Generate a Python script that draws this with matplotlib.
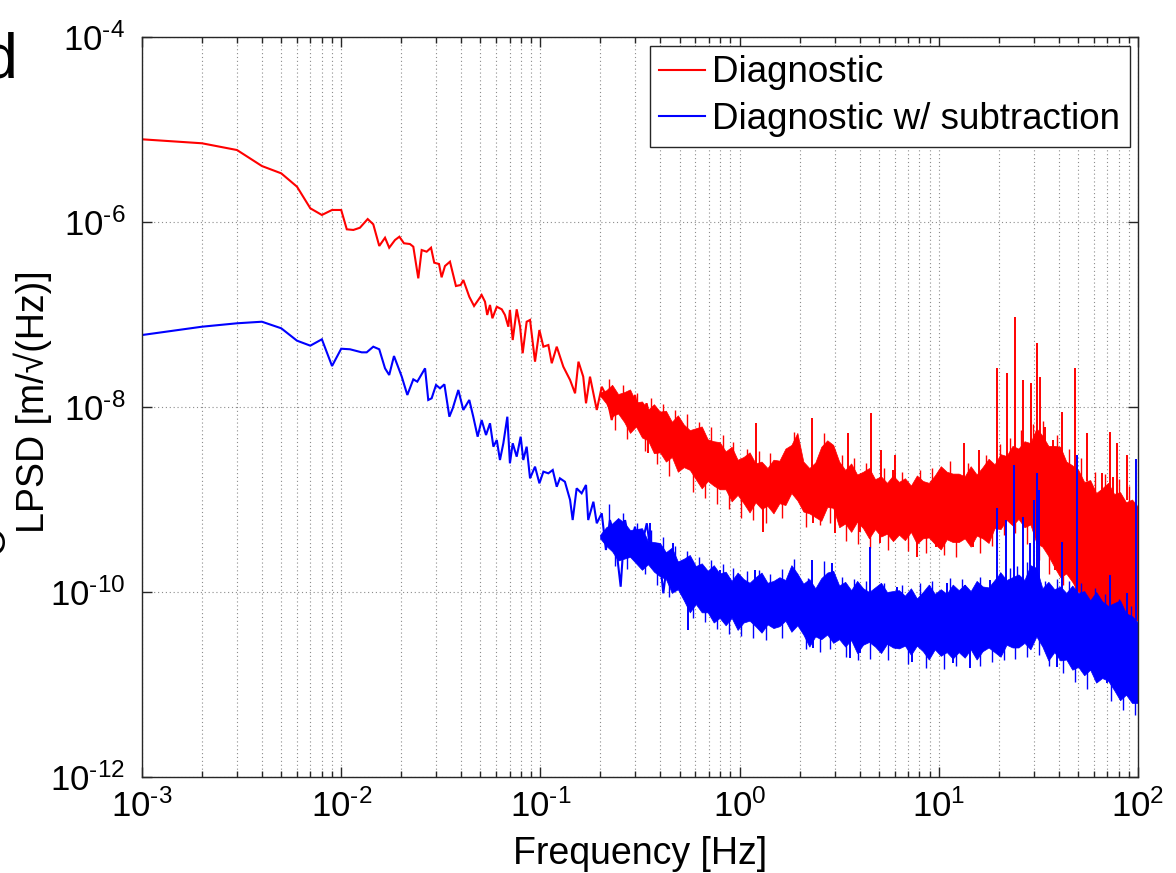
import numpy as np
import matplotlib
matplotlib.use('Agg')
import matplotlib.pyplot as plt
from matplotlib.ticker import FixedLocator, NullLocator, NullFormatter

plt.rcParams['font.family'] = ['Liberation Sans', 'DejaVu Sans']
plt.rcParams['mathtext.fontset'] = 'custom'
plt.rcParams['mathtext.rm'] = 'Liberation Sans'
plt.rcParams['mathtext.it'] = 'Liberation Sans:italic'
plt.rcParams['mathtext.bf'] = 'Liberation Sans:bold'
plt.rcParams['mathtext.default'] = 'regular'

# ---------------- data (log10 of frequency [Hz], log10 of LPSD [m/sqrt(Hz)]) ----------------
# Diagnostic (red): resolved low-frequency trace
red_logf = [-3.000, -2.699, -2.523, -2.398, -2.301, -2.222, -2.155, -2.097, -2.046, -2.000,
            -1.972, -1.939, -1.906, -1.867, -1.839, -1.809, -1.780, -1.759, -1.730, -1.708,
            -1.685, -1.655, -1.638, -1.613, -1.596, -1.571, -1.549, -1.533, -1.509, -1.496,
            -1.479, -1.454, -1.424, -1.400, -1.387, -1.375, -1.357, -1.333, -1.312, -1.295,
            -1.278, -1.267, -1.253, -1.241, -1.219, -1.194, -1.178, -1.161, -1.153, -1.139,
            -1.119, -1.102, -1.089, -1.069, -1.052, -1.027, -1.005, -0.985, -0.960, -0.943,
            -0.918, -0.885, -0.851, -0.826, -0.809, -0.785, -0.771, -0.751, -0.717, -0.692,
            -0.667, -0.642, -0.617, -0.584, -0.550, -0.525, -0.500, -0.467, -0.441, -0.417]
red_logpsd = [-5.106, -5.149, -5.222, -5.395, -5.474, -5.618, -5.852, -5.924, -5.870, -5.870,
              -6.079, -6.086, -6.062, -5.968, -6.025, -6.259, -6.170, -6.278, -6.195, -6.159,
              -6.230, -6.238, -6.267, -6.609, -6.303, -6.321, -6.278, -6.440, -6.454, -6.598,
              -6.476, -6.429, -6.692, -6.681, -6.627, -6.699, -6.808, -6.908, -6.843, -6.789,
              -6.862, -7.005, -6.897, -7.041, -6.916, -6.944, -7.005, -7.132, -6.951, -7.276,
              -6.944, -7.132, -7.419, -7.078, -7.059, -7.510, -7.168, -7.348, -7.330, -7.527,
              -7.348, -7.564, -7.708, -7.852, -7.510, -7.672, -7.960, -7.672, -8.032, -7.781,
              -7.889, -8.141, -7.924, -8.105, -8.032, -7.870, -8.176, -7.960, -8.213, -8.032]

# Diagnostic w/ subtraction (blue): resolved low-frequency trace
blue_logf = [-3.000, -2.699, -2.523, -2.398, -2.301, -2.222, -2.155, -2.097, -2.046, -2.000,
             -1.956, -1.897, -1.872, -1.839, -1.809, -1.780, -1.759, -1.735, -1.696, -1.668,
             -1.638, -1.618, -1.579, -1.563, -1.546, -1.524, -1.504, -1.482, -1.457, -1.440,
             -1.412, -1.387, -1.357, -1.337, -1.315, -1.295, -1.273, -1.253, -1.236, -1.219,
             -1.203, -1.186, -1.166, -1.153, -1.139, -1.119, -1.099, -1.086, -1.069, -1.052,
             -1.027, -1.005, -0.985, -0.960, -0.938, -0.918, -0.902, -0.877, -0.851, -0.838,
             -0.818, -0.793, -0.771, -0.760, -0.734, -0.717, -0.692, -0.671, -0.651, -0.626,
             -0.597, -0.575, -0.550, -0.525, -0.500, -0.466, -0.441, -0.408, -0.383, -0.358]
blue_logpsd = [-7.222, -7.132, -7.095, -7.078, -7.149, -7.283, -7.337, -7.268, -7.557, -7.370,
               -7.376, -7.409, -7.409, -7.348, -7.376, -7.582, -7.654, -7.449, -7.672, -7.870,
               -7.701, -7.726, -7.582, -7.924, -7.906, -7.762, -7.798, -7.755, -8.105, -8.014,
               -7.816, -8.032, -7.924, -8.105, -8.321, -8.141, -8.303, -8.176, -8.429, -8.357,
               -8.573, -8.392, -8.105, -8.609, -8.392, -8.537, -8.321, -8.573, -8.429, -8.771,
               -8.645, -8.825, -8.699, -8.717, -8.681, -8.862, -8.771, -8.808, -9.005, -9.222,
               -8.879, -8.933, -8.843, -9.222, -9.024, -9.257, -9.149, -9.546, -9.222, -9.402,
               -9.943, -9.222, -9.510, -9.294, -9.582, -9.257, -9.654, -9.474, -10.014, -9.582]

# dense (unresolved) part above ~0.2 Hz: upper / lower edge of the solid band
band_logf = [-0.70, -0.67, -0.64, -0.61, -0.58, -0.55, -0.52, -0.49, -0.46, -0.43,
             -0.40, -0.37, -0.34, -0.31, -0.28, -0.25, -0.22, -0.19, -0.16, -0.13,
             -0.10, -0.07, -0.04, -0.01, 0.02, 0.05, 0.08, 0.11, 0.14, 0.17,
             0.20, 0.23, 0.26, 0.29, 0.32, 0.35, 0.38, 0.41, 0.44, 0.47,
             0.50, 0.53, 0.56, 0.59, 0.62, 0.65, 0.68, 0.71, 0.74, 0.77,
             0.80, 0.83, 0.86, 0.89, 0.92, 0.95, 0.98, 1.01, 1.04, 1.07,
             1.10, 1.13, 1.16, 1.19, 1.22, 1.25, 1.28, 1.31, 1.34, 1.37,
             1.40, 1.43, 1.46, 1.49, 1.52, 1.55, 1.58, 1.61, 1.64, 1.67,
             1.70, 1.73, 1.76, 1.79, 1.82, 1.85, 1.88, 1.91, 1.94, 1.97, 2.00]
red_band_max = [-7.84, -7.82, -7.76, -7.86, -7.84, -7.81, -7.95, -7.94, -8.03, -7.97,
                -8.05, -8.04, -8.16, -8.09, -8.19, -8.25, -8.23, -8.21, -8.35, -8.37,
                -8.38, -8.48, -8.43, -8.57, -8.54, -8.49, -8.61, -8.59, -8.66, -8.57,
                -8.58, -8.45, -8.41, -8.28, -8.59, -8.66, -8.60, -8.43, -8.36, -8.41,
                -8.59, -8.68, -8.61, -8.73, -8.70, -8.66, -8.78, -8.75, -8.82, -8.74,
                -8.81, -8.77, -8.85, -8.74, -8.80, -8.82, -8.74, -8.64, -8.70, -8.72,
                -8.72, -8.75, -8.64, -8.73, -8.65, -8.56, -8.62, -8.51, -8.53, -8.42,
                -8.45, -8.37, -8.39, -8.23, -8.31, -8.42, -8.42, -8.43, -8.59, -8.63,
                -8.68, -8.81, -8.79, -8.93, -8.88, -8.82, -8.94, -8.92, -9.03, -9.00, -9.08]
red_band_min = [-7.88, -7.96, -8.10, -8.07, -8.16, -8.28, -8.21, -8.33, -8.36, -8.50,
                -8.49, -8.59, -8.54, -8.70, -8.65, -8.68, -8.78, -8.88, -8.80, -8.85,
                -8.89, -8.89, -9.02, -8.95, -9.04, -9.14, -9.03, -9.10, -9.07, -9.15,
                -9.04, -9.06, -8.93, -9.01, -9.13, -9.15, -9.19, -9.23, -9.08, -9.09,
                -9.30, -9.26, -9.35, -9.24, -9.31, -9.42, -9.32, -9.40, -9.37, -9.45,
                -9.38, -9.44, -9.35, -9.48, -9.42, -9.41, -9.48, -9.54, -9.43, -9.46,
                -9.46, -9.42, -9.51, -9.39, -9.42, -9.47, -9.31, -9.32, -9.22, -9.28,
                -9.21, -9.30, -9.27, -9.47, -9.51, -9.61, -9.73, -9.84, -9.80, -9.89,
                -10.00, -10.01, -10.14, -10.06, -10.14, -10.25, -10.16, -10.25, -10.24, -10.34, -10.30]
blue_band_max = [-9.38, -9.30, -9.26, -9.20, -9.25, -9.33, -9.32, -9.31, -9.45, -9.46,
                 -9.47, -9.57, -9.52, -9.67, -9.64, -9.60, -9.72, -9.69, -9.77, -9.71,
                 -9.80, -9.78, -9.88, -9.79, -9.86, -9.90, -9.84, -9.79, -9.90, -9.88,
                 -9.84, -9.87, -9.71, -9.80, -9.91, -9.86, -9.96, -9.85, -9.79, -9.77,
                 -9.93, -9.89, -9.98, -9.88, -9.96, -10.00, -9.95, -9.90, -10.00, -9.99,
                 -9.98, -10.04, -9.96, -10.07, -10.00, -9.92, -10.02, -9.97, -10.02, -9.92,
                 -9.98, -9.92, -9.99, -9.88, -9.94, -9.95, -9.87, -9.79, -9.87, -9.84,
                 -9.81, -9.87, -9.71, -9.74, -9.96, -9.89, -9.97, -9.94, -10.01, -9.93,
                 -10.01, -9.99, -10.09, -10.00, -10.10, -10.15, -10.12, -10.09, -10.23, -10.26, -10.33]
blue_band_min = [-9.42, -9.50, -9.56, -9.66, -9.64, -9.62, -9.69, -9.76, -9.70, -9.78,
                 -9.83, -9.86, -10.01, -9.97, -10.09, -10.22, -10.13, -10.22, -10.22, -10.33,
                 -10.28, -10.36, -10.28, -10.41, -10.33, -10.31, -10.37, -10.44, -10.35, -10.39,
                 -10.37, -10.31, -10.43, -10.36, -10.46, -10.59, -10.48, -10.51, -10.46, -10.55,
                 -10.51, -10.59, -10.52, -10.66, -10.57, -10.54, -10.59, -10.66, -10.56, -10.60,
                 -10.61, -10.58, -10.68, -10.58, -10.64, -10.73, -10.62, -10.69, -10.65, -10.72,
                 -10.65, -10.71, -10.62, -10.73, -10.64, -10.60, -10.65, -10.70, -10.57, -10.60,
                 -10.60, -10.55, -10.62, -10.48, -10.59, -10.74, -10.65, -10.74, -10.73, -10.84,
                 -10.81, -10.90, -10.84, -10.98, -10.93, -10.96, -11.06, -11.17, -11.11, -11.20, -11.20]

# fine noise excursions along the band edges (frequency, tip)
red_fringe_up_logf = [-0.655, -0.585, -0.515, -0.445, -0.385, -0.325, -0.265, -0.205, -0.145, -0.085,
                      -0.035, 0.035, 0.095, 0.155, 0.275, 0.425, 0.515, 0.575, 0.635, 0.725,
                      0.815, 0.905, 0.965, 1.055, 1.145, 1.235, 1.305, 1.355, 1.415, 1.475,
                      1.525, 1.595, 1.655, 1.715, 1.785, 1.835, 1.905, 1.955]
red_fringe_up_tip = [-7.70, -7.76, -7.85, -7.90, -7.97, -8.03, -8.08, -8.16, -8.22, -8.30,
                     -8.38, -8.45, -8.48, -8.50, -8.27, -8.28, -8.52, -8.55, -8.60, -8.66,
                     -8.70, -8.68, -8.66, -8.58, -8.60, -8.52, -8.40, -8.33, -8.25, -8.18,
                     -8.15, -8.30, -8.45, -8.55, -8.70, -8.72, -8.78, -8.85]
red_fringe_lo_logf = [-0.625, -0.565, -0.475, -0.415, -0.355, -0.235, -0.175, -0.115, -0.055, 0.005,
                      0.065, 0.135, 0.215, 0.335, 0.405, 0.455, 0.535, 0.595, 0.655, 0.745,
                      0.845, 0.935, 1.025, 1.085, 1.205, 1.265, 1.325, 1.385, 1.445, 1.505,
                      1.555, 1.625, 1.685, 1.745, 1.865, 1.925, 1.985]
red_fringe_lo_tip = [-8.25, -8.35, -8.48, -8.62, -8.75, -8.92, -8.98, -9.05, -9.10, -9.20,
                     -9.22, -9.25, -9.20, -9.30, -9.28, -9.25, -9.45, -9.48, -9.52, -9.55,
                     -9.56, -9.58, -9.60, -9.62, -9.58, -9.50, -9.38, -9.36, -9.48, -9.65,
                     -9.80, -9.92, -10.02, -10.18, -10.30, -10.35, -10.40]
blue_fringe_up_logf = [-0.655, -0.585, -0.515, -0.445, -0.385, -0.325, -0.265, -0.205, -0.145, -0.085,
                       -0.035, 0.035, 0.095, 0.155, 0.215, 0.275, 0.345, 0.425, 0.515, 0.575,
                       0.635, 0.725, 0.815, 0.905, 0.965, 1.055, 1.115, 1.205, 1.305, 1.355,
                       1.395, 1.445, 1.535, 1.595, 1.655, 1.715, 1.785, 1.835, 1.905, 1.965]
blue_fringe_up_tip = [-9.05, -9.15, -9.25, -9.33, -9.40, -9.50, -9.56, -9.62, -9.65, -9.70,
                      -9.74, -9.77, -9.76, -9.80, -9.75, -9.64, -9.85, -9.66, -9.84, -9.86,
                      -9.88, -9.90, -9.92, -9.90, -9.88, -9.85, -9.86, -9.84, -9.78, -9.74,
                      -9.72, -9.68, -9.88, -9.86, -9.88, -9.90, -9.96, -10.02, -10.08, -10.15]
blue_fringe_lo_logf = [-0.625, -0.565, -0.475, -0.415, -0.355, -0.235, -0.175, -0.115, -0.055, 0.005,
                       0.065, 0.135, 0.215, 0.335, 0.405, 0.455, 0.535, 0.595, 0.655, 0.745,
                       0.845, 0.935, 1.025, 1.085, 1.205, 1.265, 1.325, 1.385, 1.445, 1.505,
                       1.555, 1.625, 1.685, 1.745, 1.865, 1.925, 1.985]
blue_fringe_lo_tip = [-9.72, -9.75, -9.80, -9.92, -10.05, -10.28, -10.32, -10.40, -10.45, -10.48,
                      -10.50, -10.52, -10.50, -10.62, -10.65, -10.62, -10.70, -10.74, -10.72, -10.74,
                      -10.78, -10.82, -10.83, -10.80, -10.80, -10.76, -10.74, -10.72, -10.70, -10.68,
                      -10.80, -10.88, -10.97, -11.05, -11.18, -11.28, -11.33]

# narrow lines standing out of the band (frequency, peak, foot inside band)
red_spike_logf = [0.082, 0.363, 0.544, 0.660, 0.710, 0.780, 0.770, 1.127, 1.202, 1.292,
                  1.342, 1.383, 1.423, 1.463, 1.493, 1.508, 1.533, 1.573, 1.618, 1.684,
                  1.744, 1.819, 1.860, 1.875, 1.895, 1.945]
red_spike_top = [-8.173, -8.119, -8.281, -8.065, -8.465, -8.519, -8.680, -8.389, -8.465, -7.578,
                 -7.632, -7.027, -7.708, -7.741, -7.308, -7.676, -8.216, -8.357, -8.054, -7.578,
                 -8.281, -8.714, -8.270, -8.757, -8.390, -8.519]
red_spike_foot = [-8.62, -8.66, -8.70, -8.75, -8.80, -8.82, -8.82, -8.79, -8.75, -8.60,
                  -8.55, -8.50, -8.45, -8.40, -8.35, -8.35, -8.40, -8.47, -8.55, -8.70,
                  -8.80, -8.90, -8.93, -8.95, -8.97, -9.00]
red_dip_logf = [-0.460, -0.299, 0.117, 0.368, 0.479, 0.604, 0.705, 0.891, 0.986, 1.172,
                1.583, 1.759, 1.809, 1.875, 1.910, 1.945]
red_dip_bottom = [-8.497, -8.680, -9.351, -9.250, -9.362, -9.350, -9.470, -9.622, -9.514, -9.510,
                  -9.760, -10.090, -10.120, -10.270, -10.270, -10.270]
red_dip_top = [-8.30, -8.45, -9.00, -9.00, -9.10, -9.10, -9.20, -9.30, -9.35, -9.30,
               -9.50, -9.80, -9.85, -9.95, -9.95, -9.95]

blue_spike_logf = [-0.450, -0.334, -0.098, 0.077, 0.363, 0.464, 0.655, 0.790, 1.041, 1.132,
                   1.257, 1.292, 1.337, 1.378, 1.423, 1.458, 1.478, 1.493, 1.503, 1.618,
                   1.694, 1.860, 1.945, 1.990]
blue_spike_top = [-9.25, -9.47, -9.76, -9.76, -9.654, -9.686, -9.514, -9.946, -9.903, -9.92,
                  -9.87, -9.092, -9.222, -8.627, -9.189, -9.470, -9.01, -8.714, -8.90, -9.459,
                  -8.519, -9.816, -10.011, -8.562]
blue_spike_foot = [-9.55, -9.70, -9.95, -10.00, -10.00, -10.00, -10.05, -10.10, -10.10, -10.10,
                   -10.05, -10.00, -10.00, -9.95, -9.95, -9.90, -9.90, -9.90, -9.90, -10.00,
                   -10.05, -10.20, -10.25, -10.30]
blue_dip_logf = [-0.259, 0.368, 0.554, 0.604, 0.865, 1.071, 1.157, 1.593, 1.724, 1.844,
                 1.910, 1.970]
blue_dip_bottom = [-10.41, -10.61, -10.71, -10.66, -10.76, -10.77, -10.82, -10.81, -10.86, -10.98,
                   -11.09, -11.17]
blue_dip_top = [-9.90, -10.30, -10.40, -10.40, -10.45, -10.45, -10.45, -10.50, -10.55, -10.65,
                -10.75, -10.85]

# axes ticks
xtick_exps = [-3, -2, -1, 0, 1, 2]
ytick_exps = [-12, -10, -8, -6, -4]
series_labels = ['Diagnostic', 'Diagnostic w/ subtraction']

# ---------------- plotting ----------------
RED = (1.0, 0.0, 0.0)
BLUE = (0.0, 0.0, 1.0)
FRINGE_DEPTH = 0.25   # how far (in decades) a fringe stroke reaches back into the band

fig = plt.figure(figsize=(11.76, 8.73), dpi=100)
ax = fig.add_axes([142 / 1176, 96 / 873, 996 / 1176, 740 / 873])
ax.set_xscale('log')
ax.set_yscale('log')


def p10(a):
    return 10.0 ** np.asarray(a, dtype=float)


def draw_series(logf, logpsd, bmax, bmin, fu_f, fu_t, fl_f, fl_t, sp_f, sp_top, sp_foot,
                dp_f, dp_bot, dp_top, color, label, z):
    ax.fill_between(p10(band_logf), p10(bmin), p10(bmax), facecolor=color, edgecolor=color,
                    lw=0.5, zorder=z)
    ax.vlines(p10(fu_f), p10(np.asarray(fu_t) - FRINGE_DEPTH), p10(fu_t), color=color,
              lw=1.0, zorder=z)
    ax.vlines(p10(fl_f), p10(fl_t), p10(np.asarray(fl_t) + FRINGE_DEPTH), color=color,
              lw=1.0, zorder=z)
    ax.vlines(p10(sp_f), p10(sp_foot), p10(sp_top), color=color, lw=1.4, zorder=z)
    ax.vlines(p10(dp_f), p10(dp_bot), p10(dp_top), color=color, lw=1.4, zorder=z)
    line, = ax.plot(p10(logf), p10(logpsd), color=color, lw=1.5, zorder=z + 0.1,
                    label=label, solid_joinstyle='miter')
    return line


h_red = draw_series(red_logf, red_logpsd, red_band_max, red_band_min,
                    red_fringe_up_logf, red_fringe_up_tip, red_fringe_lo_logf, red_fringe_lo_tip,
                    red_spike_logf, red_spike_top, red_spike_foot,
                    red_dip_logf, red_dip_bottom, red_dip_top, RED, series_labels[0], 3)
h_blue = draw_series(blue_logf, blue_logpsd, blue_band_max, blue_band_min,
                     blue_fringe_up_logf, blue_fringe_up_tip, blue_fringe_lo_logf, blue_fringe_lo_tip,
                     blue_spike_logf, blue_spike_top, blue_spike_foot,
                     blue_dip_logf, blue_dip_bottom, blue_dip_top, BLUE, series_labels[1], 4)

ax.set_xlim(10.0 ** xtick_exps[0], 10.0 ** xtick_exps[-1])
ax.set_ylim(10.0 ** ytick_exps[0], 10.0 ** ytick_exps[-1])


def exp_label(e):
    s = str(e).replace('-', '\u2010')
    return f'$10^{{{s}}}$'


# ticks
ax.xaxis.set_major_locator(FixedLocator(p10(xtick_exps)))
minor_x = [m * 10.0 ** e for e in xtick_exps[:-1] for m in range(2, 10)]
ax.xaxis.set_minor_locator(FixedLocator(minor_x))
ax.xaxis.set_minor_formatter(NullFormatter())
ax.set_xticklabels([exp_label(e) for e in xtick_exps])
ax.yaxis.set_major_locator(FixedLocator(p10(ytick_exps)))
ax.yaxis.set_minor_locator(NullLocator())
ax.set_yticklabels([exp_label(e) for e in ytick_exps])

ax.tick_params(which='both', direction='in', top=True, right=True, colors='#262626',
               width=1.0, labelcolor='black')
ax.tick_params(which='major', length=7, labelsize=25)
ax.tick_params(which='minor', length=4)
ax.tick_params(axis='x', which='major', pad=9)
ax.tick_params(axis='y', which='major', pad=12)

for s in ax.spines.values():
    s.set_color('#262626')
    s.set_linewidth(1.0)
    s.set_zorder(6)

grid_kw = dict(color='#8c8c8c', linestyle=(0, (1, 2.5)), linewidth=0.8)
ax.xaxis.grid(True, which='both', **grid_kw)
ax.yaxis.grid(True, which='major', **grid_kw)
ax.set_axisbelow(True)

# legend
leg = ax.legend(handles=[h_red, h_blue], loc='upper right', bbox_to_anchor=(0.992, 0.988),
                borderaxespad=0, fontsize=26.5, frameon=True, fancybox=False, framealpha=1,
                edgecolor='#262626', handlelength=1.25, handletextpad=0.2, labelspacing=0.32,
                borderpad=0.26)
leg.get_frame().set_linewidth(1.0)
leg.set_zorder(10)

# axis labels
fig.text(640 / 1176, 1 - 864 / 873, 'Frequency [Hz]', ha='center', va='baseline', fontsize=27)
fig.text(33 / 1176, 1 - 402 / 873, 'LPSD [m/\u221a(Hz)]', rotation=90, ha='center', va='center',
         fontsize=27)

# panel letter and a fragment of the neighbouring panel's label, both cut by the figure edge
fig.text(-18 / 1176, 1 - 78 / 873, 'd', ha='left', va='baseline', fontsize=45)
fig.text(12 / 1176, 1 - 540 / 873, 'O', rotation=90, ha='right', va='center', fontsize=27)

fig.savefig('out.png', dpi=100)
